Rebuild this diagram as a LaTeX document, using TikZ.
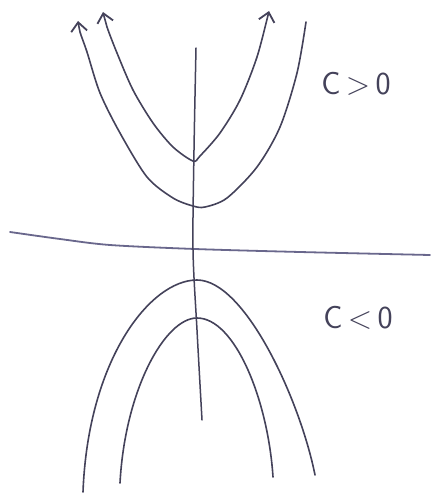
\documentclass[tikz,border=0pt]{standalone}
\usetikzlibrary{arrows.meta}
\definecolor{ink}{RGB}{68,66,90}
\definecolor{axisink}{RGB}{105,103,140}
\begin{document}
\begin{tikzpicture}[x=1pt,y=-1pt,
  barb/.tip={Straight Barb[length=9pt,width=16pt,line width=1.8pt]},
  curve/.style={draw=ink,line width=1.6pt,line cap=round,line join=round},
  axisline/.style={draw=ink,line width=1.5pt,line cap=round},
  haxis/.style={draw=axisink,line width=1.8pt,line cap=round},
  lbl/.style={text=ink,font=\sffamily\fontsize{32}{36}\selectfont,inner sep=0pt}]
\path[fill=white] (0,0) rectangle (439,500);
\useasboundingbox (0,0) rectangle (439,500);
% axes
\draw[haxis] plot[smooth] coordinates {(10,232) (60,239) (110,245) (195,249) (300,252) (430,255)};
\draw[axisline] plot[smooth] coordinates {(196,48) (194,150) (193,250) (197,330) (202,420)};
% upper parabolas (C>0)
\draw[curve,barb-barb] plot[smooth] coordinates {(103,12) (107,27) (117,53) (133,90) (153,123) (173,147) (193,161) (200,156) (220,133) (240,100) (257,57) (269,11)};
\draw[curve,barb-] plot[smooth] coordinates {(78,21) (80,32) (87,52) (100,93) (120,133) (147,177) (173,198) (193,206) (205,207) (227,198) (257,167) (280,127) (297,73) (306,22)};
% lower parabolas (C<0)
\draw[curve] (83,492) .. controls (88,360) and (150,280) .. (197,280)
                      .. controls (245,280) and (300,400) .. (315,475);
\draw[curve] (120,483) .. controls (125,390) and (165,318) .. (197,318)
                       .. controls (235,318) and (268,400) .. (273,477);
% labels
\node[lbl] (cpos) at (356,84) {C\,>\,0};
\node[lbl] (cneg) at (358,318) {C\,<\,0};
\end{tikzpicture}
\end{document}
